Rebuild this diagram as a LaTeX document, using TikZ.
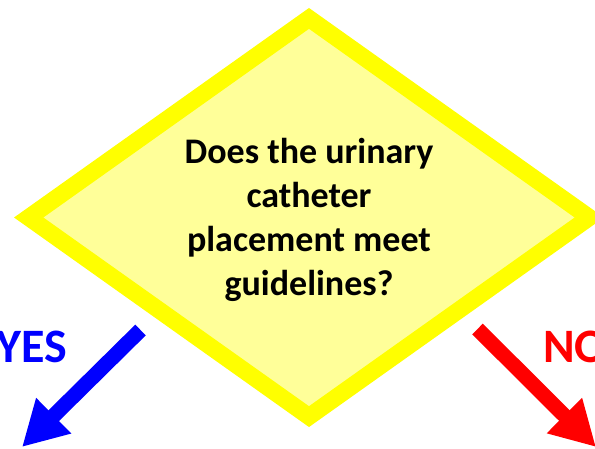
\documentclass[tikz,border=0pt]{standalone}
\usepackage{fontspec}
\setmainfont{Carlito}
\usetikzlibrary{arrows.meta}
\definecolor{boxfill}{RGB}{255,255,153}
\definecolor{boxline}{RGB}{255,255,0}

\begin{document}
\begin{tikzpicture}[x=1pt,y=-1pt,line join=miter,
  question/.style={align=center,inner sep=0pt,font=\fontsize{36}{44}\selectfont\bfseries},
  answer/.style={font=\fontsize{48}{58}\selectfont\bfseries,inner sep=0pt},
  flow/.style={line width=15pt,-{Triangle[length=44.6pt,width=46.7pt]}}]
\useasboundingbox (0,0) rectangle (595,448);
\clip (0,0) rectangle (595,448);
% decision diamond
\coordinate (dTop) at (309,18.4);
\coordinate (dRight) at (589.3,217.5);
\coordinate (dBottom) at (309,416.6);
\coordinate (dLeft) at (28.7,217.5);
\filldraw[fill=boxfill,draw=boxline,line width=17pt] (dTop) -- (dRight) -- (dBottom) -- (dLeft) -- cycle;
\node[question] (q) at (309,219.5) {Does the urinary\\catheter\\placement meet\\guidelines?};
% answers
\node[answer,text=blue,anchor=base east] (yes) at (67,362) {YES};
\node[answer,text=red,anchor=base west] (no) at (543,362) {NO};
\coordinate (yesStart) at (140.5,330);
\coordinate (yesEnd) at (22,447);
\coordinate (noStart) at (477.5,329);
\coordinate (noEnd) at (596,447);
\draw[flow,blue] (yesStart) -- (yesEnd);
\draw[flow,red] (noStart) -- (noEnd);
\end{tikzpicture}
\end{document}
